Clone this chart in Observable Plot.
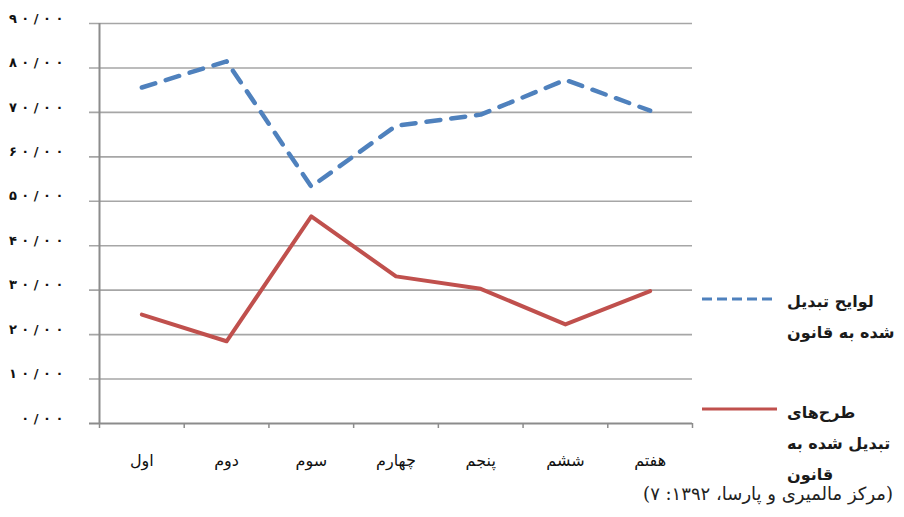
<!DOCTYPE html>
<html><head><meta charset="utf-8">
<script src="https://cdn.jsdelivr.net/npm/d3@7"></script>
<script src="https://cdn.jsdelivr.net/npm/@observablehq/plot@0.6"></script>
<style>
body{margin:0;background:#fff;}
#wrap{position:relative;width:904px;height:517px;overflow:hidden;font-family:"DejaVu Sans",sans-serif;}
.leg{position:absolute;left:787px;direction:rtl;text-align:left;font-size:16px;font-weight:bold;color:#1a1a1a;line-height:31px;white-space:nowrap;}
.legline{position:absolute;left:700px;}
#caption{position:absolute;right:11px;top:483px;direction:rtl;font-size:18px;font-family:"DejaVu Serif","DejaVu Sans",serif;font-weight:normal;color:#222;white-space:nowrap;}
</style></head><body><div id="wrap"></div>
<script>
const categories = ["اول","دوم","سوم","چهارم","پنجم","ششم","هفتم"];
const billsValues = [75.6, 81.5, 53.3, 67.0, 69.5, 77.3, 70.4];
const plansValues = [24.5, 18.5, 46.6, 33.1, 30.3, 22.3, 29.8];
const yTicks = [0,10,20,30,40,50,60,70,80,90];
const yTickLabels = ["۰/۰۰","۱۰/۰۰","۲۰/۰۰","۳۰/۰۰","۴۰/۰۰","۵۰/۰۰","۶۰/۰۰","۷۰/۰۰","۸۰/۰۰","۹۰/۰۰"];
const billsLegend = ["لوایح تبدیل","شده به قانون"];
const plansLegend = ["طرح‌های","تبدیل شده به","قانون"];
const captionText = "(مرکز مالمیری و پارسا، ۱۳۹۲: ۷)";
const blue = "#4f81bd", red = "#c0504d";

const bills = categories.map((c,i)=>({idx:i+0.5, value:billsValues[i]}));
const plans = categories.map((c,i)=>({idx:i+0.5, value:plansValues[i]}));

const chart = Plot.plot({
  width: 904, height: 517,
  marginLeft: 99, marginRight: 212, marginTop: 23, marginBottom: 94,
  x: {type:"linear", domain:[0, categories.length], label:null},
  y: {domain:[0,90], label:null},
  style: {background:"transparent", fontFamily:"'DejaVu Sans', sans-serif", color:"#111"},
  marks: [
    Plot.ruleY(yTicks.slice(1), {stroke:"#a6a6a6", strokeWidth:1.6, insetLeft:-10}),
    Plot.ruleY([0], {stroke:"#8c8c8c", strokeWidth:2, insetLeft:-10}),
    Plot.ruleX([0], {stroke:"#8c8c8c", strokeWidth:2}),
    Plot.axisX(d3.range(categories.length+1), {tickSize:5, tickFormat:()=>"", stroke:"#8c8c8c", strokeWidth:1.5, label:null}),
    Plot.axisX(categories.map((c,i)=>i+0.5), {tickSize:0, tickPadding:31, tickFormat:v=>categories[Math.floor(v)], fontSize:16, label:null}),
    Plot.axisY(yTicks, {tickSize:0, tickPadding:36, tickFormat:v=>Array.from(yTickLabels[yTicks.indexOf(v)]).join(" "), dy:-5, fontWeight:"bold", fontSize:13, label:null}),
    Plot.line(bills, {x:"idx", y:"value", stroke:blue, strokeWidth:4.5, strokeDasharray:"14 11", strokeLinecap:"round", strokeLinejoin:"round"}),
    Plot.line(plans, {x:"idx", y:"value", stroke:red, strokeWidth:4, strokeLinejoin:"round"})
  ]
});
const wrap = document.getElementById("wrap");
wrap.appendChild(chart);

function legLine(top, color, dash){
  const ns="http://www.w3.org/2000/svg";
  const s=document.createElementNS(ns,"svg");
  s.setAttribute("width","80");s.setAttribute("height","8");
  s.setAttribute("class","legline");
  s.style.top=(top-4)+"px";
  const l=document.createElementNS(ns,"line");
  l.setAttribute("x1","2");l.setAttribute("x2","77");l.setAttribute("y1","4");l.setAttribute("y2","4");
  l.setAttribute("stroke",color);l.setAttribute("stroke-width","3");
  if(dash) l.setAttribute("stroke-dasharray",dash);
  s.appendChild(l);
  wrap.appendChild(s);
}
legLine(299, blue, "10 5");
legLine(409, red, null);
function legText(top, lines){
  const d=document.createElement("div");
  d.className="leg";d.style.top=top+"px";
  d.innerHTML=lines.join("<br>");
  wrap.appendChild(d);
}
legText(286, billsLegend);
legText(397, plansLegend);
const cap=document.createElement("div");
cap.id="caption";cap.textContent=captionText;
wrap.appendChild(cap);
</script>
</body></html>
